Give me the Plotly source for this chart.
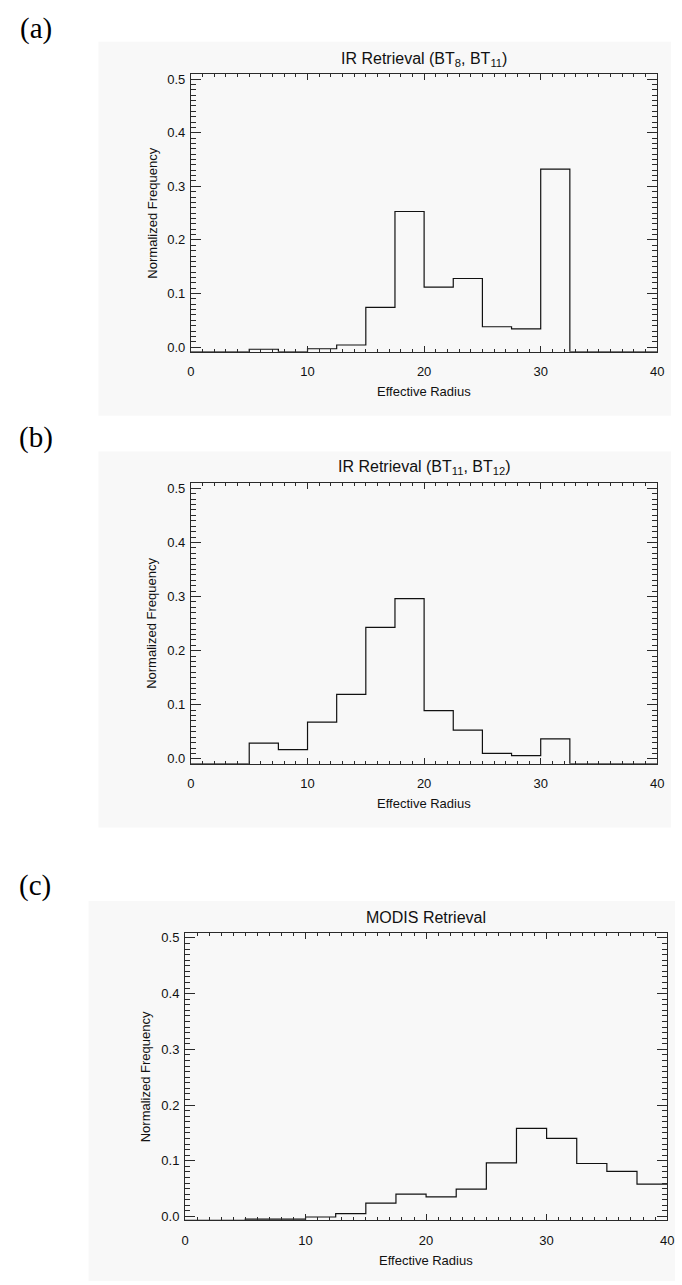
import plotly.graph_objects as go

# ---- data (bin width 2.5 between edges 0..40); None = empty bin (drawn on the axis floor)
bin_edges = [0, 2.5, 5, 7.5, 10, 12.5, 15, 17.5, 20, 22.5, 25, 27.5, 30, 32.5, 35, 37.5, 40]

freq_a = [None, None, -0.004, None, -0.003, 0.004, 0.074, 0.253, 0.112, 0.128, 0.038, 0.034, 0.332, None, None, None]
freq_b = [None, None, 0.029, 0.017, 0.068, 0.119, 0.243, 0.296, 0.089, 0.053, 0.010, 0.006, 0.037, None, None, None]
freq_c = [None, None, -0.005, -0.005, -0.001, 0.005, 0.024, 0.040, 0.035, 0.049, 0.096, 0.158, 0.140, 0.095, 0.081, 0.058]

titles = ["IR Retrieval (BT<sub>8</sub>, BT<sub>11</sub>)",
          "IR Retrieval (BT<sub>11</sub>, BT<sub>12</sub>)",
          "MODIS Retrieval"]
panel_labels = ["(a)", "(b)", "(c)"]
x_title = "Effective Radius"
y_title = "Normalized Frequency"
x_ticks = [0, 10, 20, 30, 40]
y_ticks = [0.0, 0.1, 0.2, 0.3, 0.4, 0.5]

W, H = 682, 1285
def px(x):
    return x / W
def py(y):
    return 1 - y / H

# panel geometry in pixels
axes_px = [
    dict(x0=190, x1=664, y0=71.7, y1=350.7, yr=(-0.0087, 0.509)),
    dict(x0=190, x1=664, y0=482.3, y1=765, yr=(-0.0092, 0.5105)),
    dict(x0=184, x1=674, y0=935, y1=1224, yr=(-0.007, 0.509)),
]
bg_px = [(96, 39, 678, 415), (96, 451, 678, 829), (86, 903, 682, 1285)]
label_pos = [(33, 26), (33, 437), (32, 887)]

BG = "#f8f8f8"
AX = "#2a2a2a"
FONT = "Liberation Sans, Arial, Helvetica, sans-serif"

fig = go.Figure()
shapes = []
annotations = []
series = [freq_a, freq_b, freq_c]

for i, (vals, geo) in enumerate(zip(series, axes_px)):
    floor = geo["yr"][0]
    yv = [floor if v is None else v for v in vals]
    xs = bin_edges
    ys = yv + [yv[-1]]
    sfx = "" if i == 0 else str(i + 1)
    fig.add_trace(go.Scatter(
        x=xs, y=ys, mode="lines", line=dict(shape="hv", color="#111111", width=1.2),
        xaxis="x" + sfx, yaxis="y" + sfx, showlegend=False, hoverinfo="skip"))

    common = dict(showline=True, linecolor=AX, linewidth=1, mirror="allticks",
                  ticks="inside", tickcolor=AX, tickwidth=1, showgrid=False,
                  zeroline=False, tickfont=dict(family=FONT, size=13, color="#111"))
    fig.layout["xaxis" + sfx] = dict(
        domain=[px(geo["x0"]), px(geo["x1"])], range=[0, 40],
        anchor="y" + sfx, tickvals=x_ticks, ticklen=6,
        minor=dict(ticks="inside", dtick=1, ticklen=3, tickcolor=AX, tickwidth=1),
        ticklabelstandoff=8, **common)
    fig.layout["yaxis" + sfx] = dict(
        domain=[py(geo["y1"]), py(geo["y0"])], range=list(geo["yr"]),
        anchor="x" + sfx, tickvals=y_ticks, tickformat=".1f", ticklen=10,
        minor=dict(ticks="inside", dtick=0.01, tick0=0, ticklen=5, tickcolor=AX, tickwidth=1),
        ticklabelstandoff=2, **common)

    bx0, by0, bx1, by1 = bg_px[i]
    shapes.append(dict(type="rect", xref="paper", yref="paper", layer="below",
                       x0=px(bx0), x1=px(bx1), y0=py(by1), y1=py(by0),
                       fillcolor=BG, line=dict(width=0)))

    cx = (geo["x0"] + geo["x1"]) / 2
    cy = (geo["y0"] + geo["y1"]) / 2
    annotations.append(dict(text=titles[i], x=px(cx), y=py(geo["y0"] - 15), xref="paper", yref="paper",
                            showarrow=False, xanchor="center", yanchor="middle",
                            font=dict(family=FONT, size=16, color="#111")))
    annotations.append(dict(text=x_title, x=px(cx), y=py(geo["y1"] + 40), xref="paper", yref="paper",
                            showarrow=False, xanchor="center", yanchor="middle",
                            font=dict(family=FONT, size=13, color="#111")))
    annotations.append(dict(text=y_title, x=px(geo["x0"] - 40), y=py(cy), xref="paper", yref="paper",
                            showarrow=False, xanchor="center", yanchor="middle", textangle=-90,
                            font=dict(family=FONT, size=13, color="#111")))
    lx, ly = label_pos[i]
    annotations.append(dict(text=panel_labels[i], x=px(lx), y=py(ly), xref="paper", yref="paper",
                            showarrow=False, xanchor="center", yanchor="middle",
                            font=dict(family="Liberation Serif, Times New Roman, serif", size=29, color="#000")))

fig.update_layout(width=W, height=H, margin=dict(l=0, r=0, t=0, b=0),
                  paper_bgcolor="white", plot_bgcolor=BG,
                  shapes=shapes, annotations=annotations, showlegend=False)

fig.write_html("out.html")
